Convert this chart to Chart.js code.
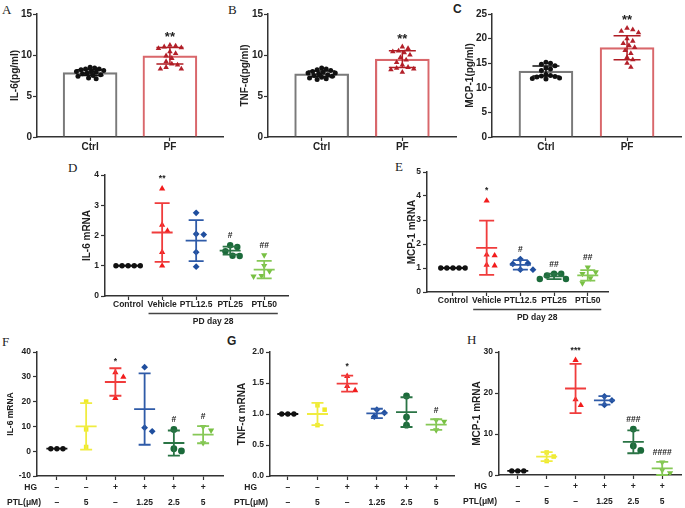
<!DOCTYPE html>
<html>
<head>
<meta charset="utf-8">
<script src="https://cdn.jsdelivr.net/npm/chart.js@4.4.1/dist/chart.umd.min.js"></script>
<style>
  body { margin: 0; background: #fff; width: 685px; height: 508px; position: relative; overflow: hidden; }
  canvas { position: absolute; }
  .lt { position: absolute; font: 13px "Liberation Serif", "DejaVu Serif", serif; line-height: 13px; color: #222; }
  .ls { position: absolute; font: bold 12px "Liberation Sans", Arial, sans-serif; line-height: 13px; color: #222; }
</style>
</head>
<body>
<div class="lt" style="left:2px;top:3px">A</div>
<div class="lt" style="left:228px;top:3px">B</div>
<div class="ls" style="left:453px;top:3px">C</div>
<div class="lt" style="left:68px;top:161px">D</div>
<div class="lt" style="left:395px;top:160px">E</div>
<div class="lt" style="left:2px;top:335px">F</div>
<div class="ls" style="left:227px;top:335px">G</div>
<div class="lt" style="left:467px;top:333px">H</div>

<canvas id="pA"></canvas>
<canvas id="pB"></canvas>
<canvas id="pC"></canvas>
<canvas id="pD"></canvas>
<canvas id="pE"></canvas>
<canvas id="pF"></canvas>
<canvas id="pG"></canvas>
<canvas id="pH"></canvas>

<script>
// ---- A-C: serum levels, Ctrl vs PF ----
const serumGroups = ['Ctrl', 'PF'];
const serumMarks = ['', '**'];

const il6SerumMean = [7.85, 9.9];
const il6SerumSd = [0.35, 1.0];
const il6SerumCtrl = [8.5, 8.4, 8.3, 8.3, 8.2, 8.1, 8.0, 8.0, 7.9, 7.8, 7.7, 7.6, 7.5, 7.4, 7.2, 7.1];
const il6SerumPf = [11.2, 11.1, 11.0, 10.9, 10.8, 10.4, 10.2, 9.9, 9.6, 9.2, 8.9, 8.8, 8.5, 8.3, 8.3];

const tnfSerumMean = [7.7, 9.5];
const tnfSerumSd = [0.35, 1.02];
const tnfSerumCtrl = [8.4, 8.3, 8.2, 8.1, 8.0, 7.9, 7.8, 7.8, 7.7, 7.6, 7.5, 7.4, 7.3, 7.2, 7.1, 7.0];
const tnfSerumPf = [11.0, 10.8, 10.5, 10.4, 10.3, 10.0, 9.7, 9.4, 9.1, 8.8, 8.5, 8.4, 8.3, 8.2, 7.9];

const mcpSerumMean = [13.4, 18.15];
const mcpSerumSd = [1.02, 2.45];
const mcpSerumCtrl = [15.2, 15.0, 14.8, 14.5, 14.0, 13.8, 13.5, 12.7, 12.5, 12.4, 12.3, 12.2, 12.0, 11.9, 11.8];
const mcpSerumPf = [22.1, 21.8, 21.5, 21.2, 20.0, 19.5, 19.0, 18.6, 18.2, 17.6, 17.0, 16.2, 15.7, 15.0, 14.2];

// ---- D-E: kidney mRNA, PD day 28 ----
const pdGroups = ['Control', 'Vehicle', 'PTL12.5', 'PTL25', 'PTL50'];

const il6PdVals = [[1, 1, 1, 1, 1], [3.55, 2.35, 2.15, 1.45, 1.0], [2.75, 2.05, 2.03, 1.45, 0.97], [1.68, 1.62, 1.48, 1.33, 1.32], [1.35, 1.0, 0.82, 0.67, 0.65]];
const il6PdMean = [1.0, 2.1, 1.83, 1.5, 0.87];
const il6PdSd = [0, 0.97, 0.68, 0.13, 0.29];
const il6PdMarks = ['', '**', '', '#', '##'];

const mcpPdVals = [[1, 1, 1, 1, 1], [3.8, 1.55, 1.52, 1.13, 1.1], [1.37, 1.2, 1.17, 0.93, 0.93], [0.76, 0.76, 0.69, 0.54, 0.54], [1.03, 0.83, 0.76, 0.58, 0.37]];
const mcpPdMean = [1.0, 1.84, 1.13, 0.65, 0.69];
const mcpPdSd = [0, 1.13, 0.2, 0.11, 0.22];
const mcpPdMarks = ['', '*', '#', '##', '##'];

// ---- F-H: cells, HG / PTL ----
const hgRow = ['\u2013', '\u2013', '+', '+', '+', '+'];
const ptlRow = ['\u2013', '5', '\u2013', '1.25', '2.5', '5'];

const il6CellVals = [[1, 1, 1], [20.0, 8.8, 1.7], [31.8, 29.9, 21.4], [33.9, 9.5, 8.0], [8.8, 1.0, 0.1], [9.8, 8.4, 3.3]];
const il6CellMean = [1.0, 10.0, 27.9, 17.0, 3.3, 6.65];
const il6CellSd = [0, 9.4, 5.55, 14.4, 5.05, 3.45];
const il6CellMarks = ['', '', '*', '', '#', '#'];

const tnfCellVals = [[1, 1, 1], [1.14, 1.07, 0.82], [1.61, 1.45, 1.38], [1.07, 1.02, 0.96], [1.29, 0.95, 0.82], [0.9, 0.88, 0.74]];
const tnfCellMean = [1.0, 1.0, 1.49, 1.01, 1.03, 0.83];
const tnfCellSd = [0, 0.18, 0.13, 0.075, 0.24, 0.085];
const tnfCellMarks = ['', '', '*', '', '', '#'];

const mcpCellVals = [[1, 1, 1], [5.5, 4.5, 3.4], [28.0, 18.4, 17.0], [19.2, 18.2, 17.1], [11.2, 7.1, 6.0], [3.1, 1.2, 0.5]];
const mcpCellMean = [1.0, 4.46, 21.1, 18.2, 8.1, 1.6];
const mcpCellSd = [0, 1.1, 6.0, 1.05, 2.8, 1.6];
const mcpCellMarks = ['', '', '***', '', '###', '####'];

const FONT = '"Liberation Sans", Arial, sans-serif';
const INK = '#222';

// marker styles
const serumStyles = [
  { color: '#111', style: 'circle', r: 2.5, bar: '#7a7a7a', err: '#111' },
  { color: '#b3202a', style: 'triangle', r: 3.2, bar: '#d9676b', err: '#b01c24' }
];
const pdStyles = [
  { color: '#111', style: 'circle', r: 2.7 },
  { color: '#f21c1c', style: 'triangle', r: 3.6, err: '#f03c3c' },
  { color: '#1f4e9e', style: 'rectRot', r: 3.4, err: '#2f5ba8' },
  { color: '#1b6a3a', style: 'circle', r: 3.2, err: '#2a7445' },
  { color: '#78c043', style: 'triangle', rot: 180, r: 3.6, err: '#86c856' }
];
const cellStyles = [
  { color: '#111', style: 'circle', r: 2.7 },
  { color: '#efea25', style: 'rect', r: 3.2, err: '#f0ec40' },
  { color: '#f21c1c', style: 'triangle', r: 3.6, err: '#f03c3c' },
  { color: '#1f4e9e', style: 'rectRot', r: 3.4, err: '#2f5ba8' },
  { color: '#1b6a3a', style: 'circle', r: 3.4, err: '#2a7445' },
  { color: '#78c043', style: 'triangle', rot: 180, r: 3.6, err: '#86c856' }
];

// spread points that would overlap, like a scatter dot plot
function swarm(vals, kx, ky, d) {
  const placed = [];
  return vals.map(v => {
    const y = v * ky;
    for (let k = 0; k < 80; k++) {
      for (const s of (k ? [1, -1] : [1])) {
        const x = s * k * d * 0.35;
        if (placed.every(q => Math.hypot(q.x - x, q.y - y) >= d)) {
          placed.push({ x, y });
          return x / kx;
        }
      }
    }
    return 0;
  });
}

function decor(p, groups) {
  return {
    id: 'decor' + p.id,
    afterDatasetsDraw(chart) {
      const ctx = chart.ctx, xs = chart.scales.x, ys = chart.scales.y, ca = chart.chartArea;
      ctx.save();
      groups.forEach((g, i) => {
        const x = xs.getPixelForValue(i);
        const yM = ys.getPixelForValue(g.mean);
        const yU = ys.getPixelForValue(g.mean + g.sd);
        const yL = ys.getPixelForValue(g.mean - g.sd);
        ctx.strokeStyle = g.err || g.color;
        ctx.lineWidth = p.errW;
        ctx.beginPath();
        ctx.moveTo(x, yU); ctx.lineTo(x, yL);
        ctx.moveTo(x - p.capW / 2, yU); ctx.lineTo(x + p.capW / 2, yU);
        ctx.moveTo(x - p.capW / 2, yL); ctx.lineTo(x + p.capW / 2, yL);
        if (p.meanW) { ctx.moveTo(x - p.meanW / 2, yM); ctx.lineTo(x + p.meanW / 2, yM); }
        ctx.stroke();
        const mark = p.marks[i];
        if (mark) {
          const top = Math.min(yU, ys.getPixelForValue(Math.max(...g.vals)) - g.r);
          ctx.fillStyle = INK;
          ctx.font = 'bold ' + p.markSize + 'px ' + FONT;
          ctx.textAlign = 'center';
          ctx.textBaseline = 'alphabetic';
          ctx.fillText(mark, x, top - p.markGap);
        }
      });
      if (p.bracket) {
        const x1 = xs.getPixelForValue(0.6), x2 = xs.getPixelForValue(4.4);
        ctx.strokeStyle = '#444';
        ctx.lineWidth = 1.5;
        ctx.beginPath();
        ctx.moveTo(x1, ca.bottom + 17.5); ctx.lineTo(x2, ca.bottom + 17.5);
        ctx.stroke();
        ctx.fillStyle = INK;
        ctx.font = 'bold 8.5px ' + FONT;
        ctx.textAlign = 'center';
        ctx.textBaseline = 'middle';
        ctx.fillText(p.bracket, (xs.getPixelForValue(1) + xs.getPixelForValue(4)) / 2, ca.bottom + 25.5);
      }
      if (p.rows) {
        ctx.fillStyle = INK;
        ctx.font = 'bold 8.5px ' + FONT;
        ctx.textAlign = 'right';
        ctx.textBaseline = 'middle';
        ctx.fillText('HG', ca.left + p.rows[0], ca.bottom + 11.5);
        ctx.fillText('PTL(\u03bcM)', ca.left + p.rows[1], ca.bottom + 26.5);
      }
      ctx.restore();
    }
  };
}

function drawPanel(p) {
  const [cx, cy, cw, ch] = p.box;
  const [L, T, R, B] = p.area;
  const cv = document.getElementById(p.id);
  cv.width = cw; cv.height = ch;
  Object.assign(cv.style, { left: cx + 'px', top: cy + 'px', width: cw + 'px', height: ch + 'px' });
  const kx = (R - L) / (p.xmax - p.xmin);
  const ky = (B - T) / (p.ymax - p.ymin);
  const groups = p.vals.map((vals, i) => Object.assign({ vals, mean: p.mean[i], sd: p.sd[i] }, p.styles[i]));

  const datasets = [];
  if (p.barW) {
    datasets.push({
      type: 'bar',
      data: groups.map((g, i) => ({ x: i, y: g.mean })),
      backgroundColor: 'rgba(255,255,255,0)',
      borderColor: groups.map(g => g.bar),
      borderWidth: 1.5,
      barThickness: p.barW,
      order: 2
    });
  }
  groups.forEach((g, i) => {
    const off = swarm(g.vals, kx, ky, (g.r * 2 + 0.4) * (p.overlap || 1));
    datasets.push({
      type: 'scatter',
      data: g.vals.map((v, j) => ({ x: i + off[j], y: v })),
      pointStyle: g.style,
      pointRotation: g.rot || 0,
      pointRadius: g.r,
      backgroundColor: g.color,
      borderColor: g.color,
      borderWidth: 0,
      order: 1
    });
  });

  const titleLH = p.titleSize * 1.2;
  const grid = { display: true, offset: false, drawOnChartArea: false, drawTicks: true, tickLength: 4, tickColor: '#333', tickWidth: 1.2 };
  const border = { display: true, color: '#333', width: 1.5 };

  new Chart(cv, {
    type: 'scatter',
    data: { datasets },
    options: {
      responsive: false,
      animation: false,
      events: [],
      layout: { padding: { left: 0, top: T - cy, right: cx + cw - R, bottom: 0 } },
      plugins: { legend: { display: false }, tooltip: { enabled: false } },
      scales: {
        x: {
          type: 'linear', min: p.xmin, max: p.xmax, offset: false,
          afterBuildTicks: s => { s.ticks = p.cats.map((c, i) => ({ value: i })); },
          afterFit: s => { s.height = cy + ch - B; },
          ticks: {
            callback: (v, i) => p.cats[i],
            font: { family: FONT, size: p.xTick, weight: 'bold', lineHeight: p.xLH || 1.2 },
            color: INK, padding: 0, maxRotation: 0, minRotation: 0, autoSkip: false
          },
          grid, border
        },
        y: {
          min: p.ymin, max: p.ymax, offset: false,
          afterFit: s => { s.width = L - cx; },
          ticks: {
            stepSize: p.step,
            callback: v => p.fmt ? v.toFixed(p.fmt) : v,
            font: { family: FONT, size: p.yTick, weight: 'bold' },
            color: INK, padding: p.yPad
          },
          title: {
            display: true, text: p.title, color: INK,
            font: { family: FONT, size: p.titleSize, weight: 'bold', lineHeight: 1.2 },
            padding: { top: p.titleX - cx - titleLH / 2, bottom: 0 }
          },
          grid, border
        }
      }
    },
    plugins: [decor(p, groups)]
  });
}

const serumCommon = {
  cats: serumGroups, styles: serumStyles, marks: serumMarks, overlap: 0.8,
  xmin: -0.665, xmax: 1.665, barW: 54, errW: 1.5, capW: 27, meanW: 0,
  markSize: 13, markGap: 1, xTick: 10, yTick: 10, yPad: 1, titleSize: 10
};
drawPanel(Object.assign({}, serumCommon, {
  id: 'pA', box: [0, 0, 228, 165], area: [37, 14, 223, 137],
  ymin: 0, ymax: 15, step: 5, title: 'IL-6(pg/ml)', titleX: 15.5,
  vals: [il6SerumCtrl, il6SerumPf], mean: il6SerumMean, sd: il6SerumSd
}));
drawPanel(Object.assign({}, serumCommon, {
  id: 'pB', box: [228, 0, 232, 165], area: [268, 14, 456, 137],
  ymin: 0, ymax: 15, step: 5, title: 'TNF-\u03b1(pg/ml)', titleX: 245,
  vals: [tnfSerumCtrl, tnfSerumPf], mean: tnfSerumMean, sd: tnfSerumSd
}));
drawPanel(Object.assign({}, serumCommon, {
  id: 'pC', box: [455, 0, 230, 165], area: [492, 14, 681, 137],
  ymin: 0, ymax: 25, step: 5, title: 'MCP-1(pg/ml)', titleX: 470,
  vals: [mcpSerumCtrl, mcpSerumPf], mean: mcpSerumMean, sd: mcpSerumSd
}));

const pdCommon = {
  cats: pdGroups, styles: pdStyles, errW: 1.8, capW: 15, meanW: 21,
  markSize: 8.5, markGap: 4, xTick: 8.5, yTick: 8.5, yPad: 2, bracket: 'PD day 28'
};
drawPanel(Object.assign({}, pdCommon, {
  id: 'pD', box: [60, 160, 280, 172], area: [105, 175, 288, 296],
  xmin: -0.68, xmax: 4.7, ymin: 0, ymax: 4, step: 1,
  title: 'IL-6 mRNA', titleSize: 10, titleX: 87,
  vals: il6PdVals, mean: il6PdMean, sd: il6PdSd, marks: il6PdMarks
}));
drawPanel(Object.assign({}, pdCommon, {
  id: 'pE', box: [385, 160, 300, 172], area: [427, 172, 608, 292],
  xmin: -0.77, xmax: 4.6, ymin: 0, ymax: 5, step: 1,
  title: 'MCP-1 mRNA', titleSize: 10, titleX: 412,
  vals: mcpPdVals, mean: mcpPdMean, sd: mcpPdSd, marks: mcpPdMarks
}));

const cellCats = hgRow.map((h, i) => [h, ptlRow[i]]);
const cellCommon = {
  cats: cellCats, styles: cellStyles, errW: 1.8, capW: 12, meanW: 21,
  markSize: 8.5, markGap: 4, xTick: 8.5, xLH: '15px', yTick: 8.5, yPad: 2
};
drawPanel(Object.assign({}, cellCommon, {
  id: 'pF', box: [0, 330, 228, 178], area: [37, 352, 223, 476],
  xmin: -0.68, xmax: 5.68, ymin: -10, ymax: 40, step: 10,
  title: 'IL-6 mRNA', titleSize: 8.5, titleX: 11, rows: [0, 4],
  vals: il6CellVals, mean: il6CellMean, sd: il6CellSd, marks: il6CellMarks
}));
drawPanel(Object.assign({}, cellCommon, {
  id: 'pG', box: [225, 330, 233, 178], area: [270, 352, 454, 476],
  xmin: -0.6, xmax: 5.6, ymin: 0, ymax: 2, step: 0.5, fmt: 1,
  title: 'TNF-\u03b1 mRNA', titleSize: 10, titleX: 242, rows: [-13, -2],
  vals: tnfCellVals, mean: tnfCellMean, sd: tnfCellSd, marks: tnfCellMarks
}));
drawPanel(Object.assign({}, cellCommon, {
  id: 'pH', box: [455, 330, 230, 178], area: [499, 352, 684, 475],
  xmin: -0.65, xmax: 5.65, ymin: 0, ymax: 30, step: 10,
  title: 'MCP-1 mRNA', titleSize: 10, titleX: 477, rows: [-12, -2],
  vals: mcpCellVals, mean: mcpCellMean, sd: mcpCellSd, marks: mcpCellMarks
}));
</script>
</body>
</html>
